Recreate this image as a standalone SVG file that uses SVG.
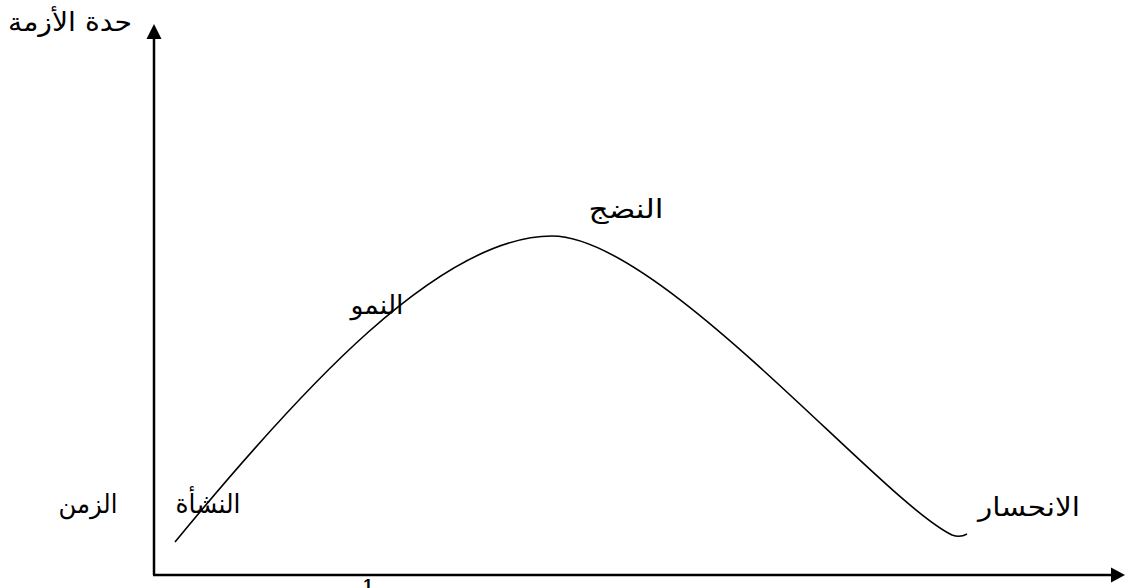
<svg xmlns="http://www.w3.org/2000/svg" width="1125" height="588" viewBox="0 0 1125 588">
<style>
.lbl{font-family:"DejaVu Sans","Noto Sans",sans-serif;font-size:26px;fill:#000;text-anchor:middle}
.axis{stroke:#000;stroke-width:2.5;fill:none}
.curve{stroke:#000;stroke-width:1.6;fill:none}
</style>
<rect width="1125" height="588" fill="#fff"/>
<g id="connectors">
<path class="axis" d="M154,575 V38"/>
<polygon points="154,24 146.5,39 161.5,39" fill="#000"/>
<path class="axis" d="M153,575 H1112"/>
<polygon points="1125,575 1111,567.5 1111,582.5" fill="#000"/>
<path id="curve" class="curve" d="M175,542 C300,390 440,236 552,236 C660,236 880,500 952,535 Q960,538 967,534"/>
</g>
<g id="y-label"><text class="lbl" x="70" y="31" textLength="124" lengthAdjust="spacingAndGlyphs">حدة الأزمة</text></g>
<g id="x-label"><text class="lbl" x="88" y="513" textLength="59" lengthAdjust="spacingAndGlyphs">الزمن</text></g>
<g id="stage-birth"><text class="lbl" x="208" y="513" textLength="65" lengthAdjust="spacingAndGlyphs">النشأة</text></g>
<g id="stage-growth"><text class="lbl" x="377" y="314" textLength="53" lengthAdjust="spacingAndGlyphs">النمو</text></g>
<g id="stage-maturity"><text class="lbl" x="626" y="218" textLength="75" lengthAdjust="spacingAndGlyphs">النضج</text></g>
<g id="stage-decline"><text class="lbl" x="1029" y="516" textLength="102" lengthAdjust="spacingAndGlyphs">الانحسار</text></g>
<g id="caption"><text x="368" y="591" style="font-family:'Liberation Sans',sans-serif;font-size:17px;font-weight:bold" text-anchor="middle">1</text></g>
</svg>
